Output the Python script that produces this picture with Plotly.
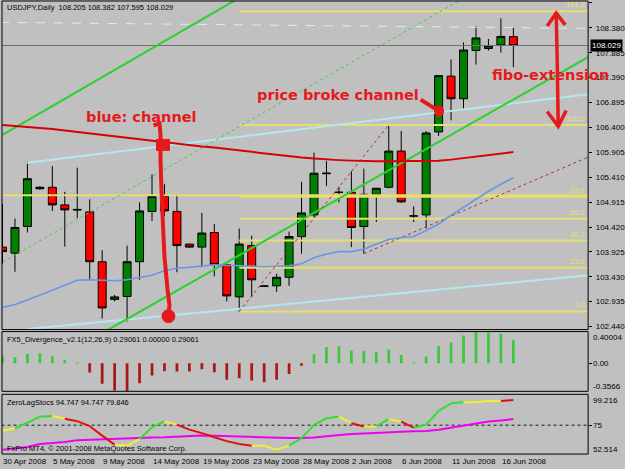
import plotly.graph_objects as go

W, H = 625, 469

# ---------------- data ----------------
bar_idx = list(range(42))
opens = [104.02, 103.90, 104.43, 105.18, 105.21, 104.86, 104.77, 104.72, 103.73, 102.98,
         103.04, 103.73, 104.73, 105.03, 104.73, 104.08, 104.02, 104.31, 103.67, 103.03,
         104.05, 103.25, 103.25, 103.42, 104.23, 104.66, 105.48, 105.11, 105.11, 104.43,
         105.07, 105.21, 105.93, 104.64, 104.66, 106.31, 107.42, 106.97, 107.93, 107.97,
         108.04, 108.205]
highs = [104.88, 104.59, 105.73, 105.23, 105.63, 105.12, 105.60, 104.97, 103.96, 103.07,
         104.05, 104.91, 105.47, 105.27, 105.07, 104.09, 104.70, 104.48, 103.69, 104.39,
         104.25, 103.26, 103.49, 104.33, 105.32, 105.90, 105.73, 105.22, 105.53, 105.58,
         105.20, 106.46, 106.33, 104.83, 106.33, 107.44, 107.75, 108.09, 108.42, 108.16,
         108.57, 108.382]
lows = [103.69, 103.53, 104.31, 105.16, 104.74, 104.03, 104.60, 103.37, 102.60, 102.94,
        102.54, 103.37, 104.54, 104.64, 103.52, 104.01, 103.62, 103.44, 102.94, 102.74,
        103.03, 103.23, 103.13, 103.25, 103.89, 104.61, 105.24, 104.91, 104.02, 103.89,
        104.52, 105.19, 104.90, 104.52, 104.39, 106.23, 106.54, 106.77, 107.65, 107.93,
        107.89, 107.595]
closes = [103.93, 104.41, 105.38, 105.21, 104.86, 104.76, 104.76, 103.73, 102.81, 103.03,
          103.73, 104.74, 105.03, 104.74, 104.05, 104.02, 104.30, 103.67, 103.05, 104.08,
          103.37, 103.24, 103.42, 104.23, 104.70, 105.49, 105.49, 105.11, 104.41, 105.07,
          105.19, 105.93, 104.92, 104.64, 106.29, 107.43, 106.97, 107.94, 108.18, 108.02,
          108.21, 108.029]

ma_red = [106.45, 106.43, 106.41, 106.40, 106.37, 106.34, 106.31, 106.29, 106.26, 106.22,
          106.19, 106.16, 106.13, 106.10, 106.07, 106.05, 106.02, 106.00, 105.97, 105.95,
          105.91, 105.885, 105.855, 105.83, 105.80, 105.78, 105.76, 105.75, 105.74, 105.73,
          105.73, 105.73, 105.73, 105.73, 105.73, 105.74, 105.76, 105.79, 105.82, 105.85,
          105.88, 105.91]
ma_blue = [102.82, 102.88, 102.97, 103.06, 103.16, 103.26, 103.36, 103.37, 103.36, 103.35,
           103.37, 103.41, 103.46, 103.55, 103.60, 103.62, 103.65, 103.67, 103.66, 103.65,
           103.63, 103.63, 103.64, 103.65, 103.69, 103.81, 103.885, 103.93, 103.93, 103.98,
           104.08, 104.17, 104.21, 104.23, 104.35, 104.48, 104.65, 104.81, 104.97, 105.13,
           105.27, 105.40]

# trend / channel objects (bar index, price)
green_upper_x, green_upper_y = [0, 20], [106.25, 109.12]
green_lower_x, green_lower_y = [8, 47], [102.31, 107.80]
green_mid_x, green_mid_y = [0, 37], [103.72, 108.97]
cyan_upper_x, cyan_upper_y = [1.94, 47], [105.70, 107.06]
cyan_lower_x, cyan_lower_y = [2, 47], [102.39, 103.46]
cyan_dash_x, cyan_dash_y = [-0.2, 47], [108.49, 108.37]
fib_diag_x, fib_diag_y = [19, 31], [102.74, 106.45]
red_dash_x, red_dash_y = [29, 47], [103.89, 105.81]
hline_long = 105.05
fib_start, fib_end = 19, 47
fib_prices = [102.74, 103.61, 104.15, 104.585, 105.02, 106.45, 108.71]
fib_labels = ["0.0", "23.6", "38.2", "50.0", "23.6", "100.0", "161.8"]

price_ticks = [108.875, 108.380, 107.885, 107.390, 106.895, 106.400, 105.905,
               105.410, 104.915, 104.420, 103.925, 103.430, 102.935, 102.440]

macd = [0.096, 0.074, 0.118, 0.126, 0.087, 0.044, 0.005, -0.117, -0.262, -0.346,
        -0.3566, -0.255, -0.157, -0.101, -0.105, -0.105, -0.076, -0.115, -0.21, -0.192,
        -0.22, -0.241, -0.21, -0.136, -0.034, 0.113, 0.204, 0.213, 0.16, 0.153,
        0.138, 0.174, 0.105, 0.005, 0.083, 0.213, 0.262, 0.349, 0.40004, 0.387,
        0.371, 0.29061]

stoch = [70.8, 72.7, 77.0, 81.7, 82.3, 80.1, 78.2, 74.3, 66.9, 59.9,
         59.1, 64.2, 73.5, 78.0, 75.5, 71.6, 68.9, 65.7, 62.6, 60.3,
         59.0, 59.0, 56.0, 59.1, 65.0, 75.3, 80.5, 81.8, 76.6, 74.1,
         74.1, 80.0, 77.8, 73.1, 75.5, 86.2, 92.2, 93.0, 93.0, 94.0,
         94.0, 94.747]
stoch_state = (["flat"] + ["up"] * 3 + ["flat"] + ["down"] * 4 + ["flat"] * 2 + ["up"] * 2 +
               ["flat"] + ["down"] * 6 + ["flat"] * 3 + ["up"] * 4 + ["flat"] + ["down"] +
               ["flat"] + ["up"] + ["flat"] + ["down"] + ["up"] * 4 + ["flat"] * 3 + ["down"])
signal = [55.86, 56.8, 57.96, 60.3, 61.1, 61.9, 63.4, 63.8, 64.4, 64.6,
          64.8, 65.1, 65.5, 65.7, 66.1, 66.7, 67.1, 66.9, 66.5, 66.3,
          65.7, 65.4, 65.0, 65.0, 65.0, 65.4, 66.5, 67.5, 68.1, 68.5,
          69.2, 69.6, 70.0, 70.4, 70.6, 71.6, 73.1, 74.85, 76.25, 77.96,
          78.7, 79.846]
stoch_level = 75

date_labels = ["30 Apr 2008", "5 May 2008", "9 May 2008", "14 May 2008", "19 May 2008",
               "23 May 2008", "28 May 2008", "2 Jun 2008", "6 Jun 2008", "11 Jun 2008",
               "16 Jun 2008"]
date_pos = [0, 4, 8, 12, 16, 20, 24, 28, 32, 36, 40]

# ---------------- helpers ----------------
def fx(px):
    return px / W

def fy(py):
    return 1 - py / H

def price_at(py):
    return 108.875 - (py - 3) / 50.5

X0, X1 = 2, 590
XR = [(X0 - 2.5) / 12.5, (X1 - 2.5) / 12.5]
MAIN = (1, 331)
MACDP = (333, 393)
STO = (396, 456)

SMALL = "Liberation Sans, Arial, sans-serif"
BOLD = "DejaVu Sans, Verdana, sans-serif"
RED = "#E41A1C"

fig = go.Figure()

# candles
fig.add_trace(go.Candlestick(
    x=bar_idx, open=opens, high=highs, low=lows, close=closes,
    increasing=dict(fillcolor="#008000", line=dict(color="black", width=1)),
    decreasing=dict(fillcolor="#FF0000", line=dict(color="black", width=1)),
    whiskerwidth=0, xaxis="x", yaxis="y", hoverinfo="skip"))

def line(xs, ys, color, width=1, dash="solid", axis="y"):
    fig.add_trace(go.Scatter(x=xs, y=ys, mode="lines", xaxis="x", yaxis=axis,
                             line=dict(color=color, width=width, dash=dash),
                             hoverinfo="skip"))

# horizontal / fibo lines
line([XR[0] - 1, XR[1] + 1], [hline_long] * 2, "#E6DE6E", 2)
for p in fib_prices:
    line([fib_start, fib_end + 1], [p, p], "#E6DE6E", 2)
line([XR[0] - 1, XR[1] + 1], [closes[-1]] * 2, "#707070", 1)
line(cyan_dash_x, cyan_dash_y, "#DCEEEE", 1, "dash")

# channels
line(cyan_upper_x, cyan_upper_y, "#B4E6EE", 2)
line(cyan_lower_x, cyan_lower_y, "#B4E6EE", 2)
line(green_mid_x, green_mid_y, "#44C844", 1, "dot")
line(green_upper_x, green_upper_y, "#28D228", 2)
line(green_lower_x, green_lower_y, "#28D228", 2)
line(fib_diag_x, fib_diag_y, "#A83048", 1, "dot")
line(red_dash_x, red_dash_y, "#A83048", 1, "dot")

# moving averages
line(bar_idx, ma_red, "#D80000", 2)
line(bar_idx, ma_blue, "#6A96E6", 1.6)

# MACD-type histogram
fig.add_trace(go.Bar(x=bar_idx, y=macd, width=0.22, xaxis="x", yaxis="y2",
                     marker=dict(color=["#3CC83C" if v >= 0 else "#A81818" for v in macd],
                                 line=dict(width=0)),
                     hoverinfo="skip"))

# stochastic
line([XR[0] - 1, XR[1] + 1], [stoch_level] * 2, "#505050", 1.5, "dot", axis="y3")
line(bar_idx, signal, "#F000F0", 2, axis="y3")
state_color = {"up": "#30E030", "flat": "#F0F030", "down": "#E01010"}
for st, col in state_color.items():
    xs, ys = [], []
    for k, s in enumerate(stoch_state):
        if s == st:
            xs += [bar_idx[k], bar_idx[k + 1], None]
            ys += [stoch[k], stoch[k + 1], None]
    line(xs, ys, col, 2, axis="y3")

# ---------------- layout ----------------
def dom(py):
    return [fy(py[1]), fy(py[0])]

axis_common = dict(showgrid=False, zeroline=False, fixedrange=True, anchor="x",
                   side="right", ticks="outside", ticklen=3, tickcolor="black",
                   tickfont=dict(family=SMALL, size=8, color="black"), showline=False)

fig.update_layout(
    width=W, height=H, margin=dict(l=0, r=0, t=0, b=0),
    paper_bgcolor="#C0C0C0", plot_bgcolor="#C0C0C0", showlegend=False,
    boxgap=0.36, boxgroupgap=0,
    xaxis=dict(domain=[fx(X0), fx(X1)], range=XR, anchor="y3", showgrid=False,
               zeroline=False, showticklabels=False, ticks="", fixedrange=True,
               rangeslider=dict(visible=False)),
    yaxis=dict(domain=dom(MAIN), range=[price_at(MAIN[1]), price_at(MAIN[0])],
               tickvals=price_ticks, ticktext=[f"{v:.3f}" for v in price_ticks],
               ticklabelstandoff=2, **axis_common),
    yaxis2=dict(domain=dom(MACDP), range=[-0.3566, 0.40004], tickvals=[0.0],
                showticklabels=False, **axis_common),
    yaxis3=dict(domain=dom(STO), range=[52.514, 99.216], tickvals=[75],
                showticklabels=False, **axis_common),
)

shapes = []
for top, bot in [MAIN, MACDP, STO]:
    shapes.append(dict(type="rect", xref="paper", yref="paper", x0=fx(X0), x1=fx(X1),
                       y0=fy(bot), y1=fy(top), line=dict(color="black", width=1)))

def path(pts):
    return "M " + " L ".join(f"{fx(a):.5f},{fy(b):.5f}" for a, b in pts)

hand = dict(type="path", xref="paper", yref="paper", line=dict(color=RED, width=4))
shapes.append(dict(hand, path=path([(154, 126), (160, 124), (161, 135), (161, 160),
                                    (162, 190), (163, 215), (165, 258), (168, 290),
                                    (170, 306), (169, 318)])))
shapes.append(dict(type="rect", xref="paper", yref="paper", x0=fx(157), x1=fx(170),
                   y0=fy(151), y1=fy(140), fillcolor=RED, line=dict(color=RED, width=1)))
shapes.append(dict(type="circle", xref="paper", yref="paper", x0=fx(162.5), x1=fx(175.5),
                   y0=fy(324), y1=fy(311), fillcolor=RED, line=dict(color=RED, width=1)))
shapes.append(dict(hand, path=path([(422, 100), (438, 110)])))
shapes.append(dict(type="circle", xref="paper", yref="paper", x0=fx(436), x1=fx(445),
                   y0=fy(117), y1=fy(106), fillcolor=RED, line=dict(color=RED, width=1)))
arrow = dict(type="path", xref="paper", yref="paper", line=dict(color=RED, width=3.5))
shapes.append(dict(arrow, path=path([(558, 14), (559, 60), (560, 126)])))
shapes.append(dict(arrow, path=path([(549, 26), (558, 13), (567, 25)])))
shapes.append(dict(arrow, path=path([(549, 112), (560, 127), (568, 111)])))
fig.update_layout(shapes=shapes)

ann = []
def text(x, y, s, size=7.5, color="black", xanchor="left", family=SMALL, **kw):
    ann.append(dict(x=x, y=y, text=s, showarrow=False, xanchor=xanchor,
                    yanchor=kw.pop("yanchor", "middle"), xref=kw.pop("xref", "paper"),
                    yref=kw.pop("yref", "paper"),
                    font=dict(family=family, size=size, color=color), **kw))

text(fx(5), fy(8), "USDJPY,Daily  108.205 108.382 107.595 108.029")
text(fx(5), fy(341), "FX5_Divergence_v2.1(12,26,9) 0.29061 0.00000 0.29061")
text(fx(5), fy(404), "ZeroLagStocs 94.747 94.747 79.846")
text(fx(5), fy(450), "FxPro MT4, © 2001-2008 MetaQuotes Software Corp.")

# right labels for sub panels
for v, s, sh in [(0.40004, "0.40004", -6), (0.0, "0.00", 0), (-0.3566, "-0.3566", 5)]:
    text(fx(593), v, s, size=8, yref="y2", yshift=sh)
for v, s, sh in [(99.216, "99.216", -6), (75, "75", 0), (52.514, "52.514", 5)]:
    text(fx(593), v, s, size=8, yref="y3", yshift=sh)

# current price box
ann.append(dict(x=fx(592), y=closes[-1], xref="paper", yref="y", text=f"{closes[-1]:.3f}",
                showarrow=False, xanchor="left", yanchor="middle", bgcolor="black",
                borderpad=1, font=dict(family=SMALL, size=8, color="white")))

# fibo labels
for p, s in zip(fib_prices, fib_labels):
    text(fib_end - 0.1, p, s, size=7.5, color="#E8E070", xanchor="right", xref="x",
         yref="y", yanchor="bottom")

# date labels
for i, s in zip(date_pos, date_labels):
    text(i, fy(463), s, size=8, xref="x", xshift=-1)

# hand-written notes
text(fx(142), fy(118), "<b>blue: channel</b>", size=14.5, color=RED, xanchor="center",
     family=BOLD)
text(fx(339), fy(95), "<b>price broke channel</b>", size=14.5, color=RED,
     xanchor="center", family=BOLD)
text(fx(552), fy(75), "<b>fibo-extension</b>", size=14.5, color=RED, xanchor="center",
     family=BOLD)

fig.update_layout(annotations=ann)
fig.write_html("out.html")
